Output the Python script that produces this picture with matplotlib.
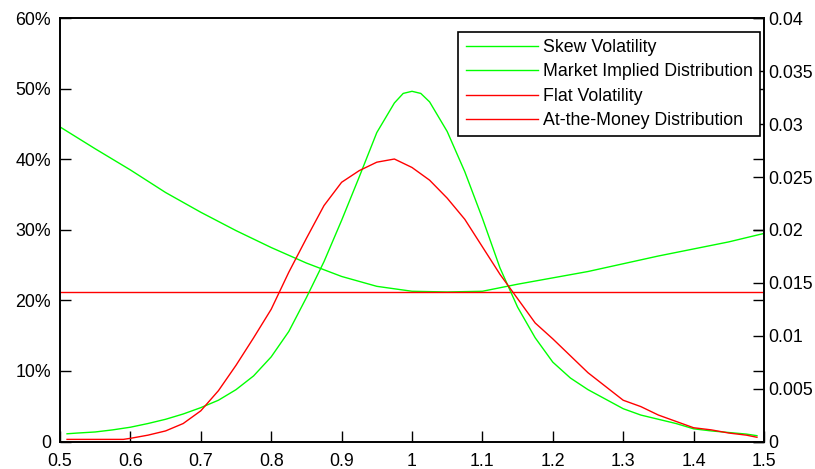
import matplotlib
matplotlib.use("Agg")
import matplotlib.pyplot as plt

plt.rcParams['font.family'] = ['Liberation Sans', 'DejaVu Sans']

# Skew volatility (% , left axis)
skew_x = [0.50, 0.55, 0.60, 0.65, 0.70, 0.75, 0.80, 0.85, 0.90, 0.95, 1.00,
          1.05, 1.10, 1.15, 1.20, 1.25, 1.30, 1.35, 1.40, 1.45, 1.50]
skew_vol = [44.6, 41.5, 38.5, 35.3, 32.5, 29.9, 27.5, 25.3, 23.4, 22.0, 21.3,
            21.2, 21.3, 22.3, 23.2, 24.1, 25.2, 26.3, 27.3, 28.3, 29.5]

# Flat volatility (% , left axis)
flat_x = [0.50, 1.50]
flat_vol = [21.2, 21.2]

# Market implied distribution (right axis)
mkt_x = [0.51, 0.525, 0.55, 0.575, 0.60, 0.625, 0.65, 0.675, 0.70, 0.725, 0.75,
         0.775, 0.80, 0.825, 0.85, 0.875, 0.90, 0.925, 0.95, 0.975, 0.9875,
         1.00, 1.0125, 1.025, 1.05, 1.075, 1.10, 1.125, 1.15, 1.175, 1.20,
         1.225, 1.25, 1.275, 1.30, 1.325, 1.35, 1.375, 1.40, 1.425, 1.45,
         1.475, 1.49]
mkt_dist = [0.00073, 0.00080, 0.00090, 0.00110, 0.00135, 0.0017, 0.0021, 0.0026,
            0.0032, 0.0039, 0.0049, 0.0062, 0.0080, 0.0104, 0.0136, 0.0170,
            0.0209, 0.0250, 0.0292, 0.0320, 0.0329, 0.0331, 0.0329, 0.0321,
            0.0293, 0.0255, 0.0211, 0.0164, 0.0127, 0.0098, 0.0075, 0.0060,
            0.0049, 0.0040, 0.0031, 0.0025, 0.0021, 0.0017, 0.0012, 0.0010,
            0.00085, 0.0007, 0.00055]

# At-the-money distribution (right axis)
atm_x = [0.51, 0.55, 0.59, 0.60, 0.625, 0.65, 0.675, 0.70, 0.725, 0.75, 0.775,
         0.80, 0.825, 0.85, 0.875, 0.90, 0.925, 0.95, 0.975, 1.00, 1.025, 1.05,
         1.075, 1.10, 1.125, 1.15, 1.175, 1.20, 1.225, 1.25, 1.275, 1.30,
         1.325, 1.35, 1.375, 1.40, 1.425, 1.45, 1.475, 1.49]
atm_dist = [0.0002, 0.0002, 0.0002, 0.0003, 0.0006, 0.0010, 0.0017, 0.0029,
            0.0048, 0.0072, 0.0098, 0.0125, 0.0160, 0.0192, 0.0223, 0.0245,
            0.0256, 0.0264, 0.0267, 0.0259, 0.0247, 0.0230, 0.0210, 0.0184,
            0.0158, 0.0135, 0.0112, 0.0097, 0.0081, 0.0065, 0.0052, 0.0039,
            0.0033, 0.0025, 0.0019, 0.0013, 0.0011, 0.0008, 0.0006, 0.0004]

x_ticks = [0.5, 0.6, 0.7, 0.8, 0.9, 1.0, 1.1, 1.2, 1.3, 1.4, 1.5]
x_labels = ['0.5', '0.6', '0.7', '0.8', '0.9', '1', '1.1', '1.2', '1.3', '1.4', '1.5']
left_ticks = [0, 10, 20, 30, 40, 50, 60]
left_labels = ['0', '10%', '20%', '30%', '40%', '50%', '60%']
right_ticks = [0, 0.005, 0.01, 0.015, 0.02, 0.025, 0.03, 0.035, 0.04]
right_labels = ['0', '0.005', '0.01', '0.015', '0.02', '0.025', '0.03', '0.035', '0.04']

GREEN = '#00ff00'
RED = '#ff0000'
FS = 12.8

fig = plt.figure(figsize=(8.15, 4.69), dpi=100)
ax = fig.add_axes([60 / 815, 1 - 441.5 / 469, (764 - 60) / 815, (441.5 - 18.3) / 469])
ax2 = ax.twinx()

l1, = ax.plot(skew_x, skew_vol, color=GREEN, lw=1.0, label='Skew Volatility')
l3, = ax.plot(flat_x, flat_vol, color=RED, lw=1.0, label='Flat Volatility')
l2, = ax2.plot(mkt_x, mkt_dist, color=GREEN, lw=1.0, label='Market Implied Distribution')
l4, = ax2.plot(atm_x, atm_dist, color=RED, lw=1.0, label='At-the-Money Distribution')

ax.set_xlim(0.5, 1.5)
ax.set_ylim(0, 60)
ax2.set_ylim(0, 0.04)

ax.set_xticks(x_ticks)
ax.set_xticklabels(x_labels, fontsize=FS)
ax.set_yticks(left_ticks)
ax.set_yticklabels(left_labels, fontsize=FS)
ax2.set_yticks(right_ticks)
ax2.set_yticklabels(right_labels, fontsize=FS)

ax.tick_params(axis='x', direction='in', length=8, width=1, pad=8.5, top=False)
ax.tick_params(axis='y', direction='in', length=8, width=1, pad=6.5, right=True)
ax2.tick_params(axis='y', direction='in', length=8, width=1, pad=3)

for a in (ax, ax2):
    for s in a.spines.values():
        s.set_linewidth(1.2)
        s.set_color('black')

leg = ax2.legend(handles=[l1, l2, l3, l4], loc='upper right',
                 bbox_to_anchor=(759.5 / 815, 1 - 31.7 / 469),
                 bbox_transform=fig.transFigure, borderaxespad=0,
                 fontsize=FS, fancybox=False, framealpha=1, edgecolor='black',
                 handlelength=4.05, handletextpad=0.28, labelspacing=0.42,
                 borderpad=0.4)
leg.get_frame().set_linewidth(1.2)

fig.savefig('out.png', dpi=100, facecolor='white')
